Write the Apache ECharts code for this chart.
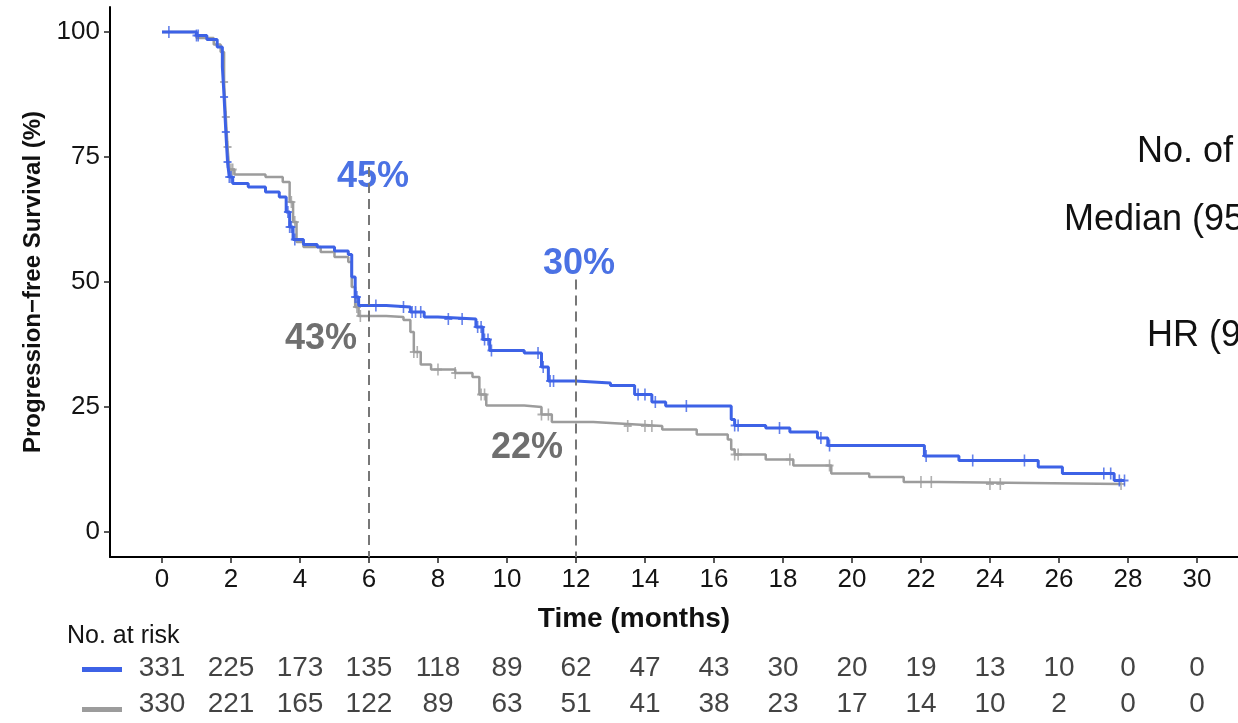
<!DOCTYPE html>
<html>
<head>
<meta charset="utf-8">
<script src="https://cdn.jsdelivr.net/npm/echarts@6/dist/echarts.min.js"></script>
<style>
html,body{margin:0;padding:0;background:#fff;}
#chart{width:1238px;height:723px;}
</style>
</head>
<body>
<div id="chart"></div>
<script>
// ---- data ----
const xTicks = [0,2,4,6,8,10,12,14,16,18,20,22,24,26,28,30];
const yTicks = [0,25,50,75,100];

const blueTime = [0,1.0,1.3,1.6,1.75,1.8,1.85,1.9,1.95,2.05,2.5,3.0,3.4,3.6,3.7,3.8,4.1,4.5,5.0,5.4,5.5,5.6,5.7,6.5,7.2,7.6,8.0,9.1,9.3,9.5,10.5,11.0,11.2,12.0,13.0,13.7,14.2,14.6,16.5,16.6,17.5,18.2,19.0,19.3,22.1,23.1,25.4,26.1,27.6,27.9];
const blueSurv = [100,99.3,98.5,97,93,87,80,74,71,69.7,69,68,67,64,61,58.5,57.5,57,56.2,55.5,51,47,45.3,45,44,43,42.6,41,38.5,36.3,35.8,33,30.2,29.8,29.3,27.5,26,25.2,22.5,21.3,20.8,20,18.8,17.3,15.2,14.3,13,11.7,10.3,10.3];

const grayTime = [0,1.0,1.5,1.7,1.8,1.85,1.9,1.95,2.1,3.0,3.5,3.7,3.8,3.9,4.1,4.6,5.0,5.4,5.5,5.6,5.7,6.5,7.0,7.2,7.3,7.5,7.8,8.5,9.0,9.2,9.4,10.5,11.0,11.3,12.5,13.5,14.5,15.5,16.4,16.5,16.6,17.5,18.3,19.4,20.5,21.5,22.5,27.8];
const graySurv = [100,98.8,97.5,96,90,83,77,72.5,71.5,71,70,66,62,58,57,56,55,54,49,45,43.2,43,42.4,40,36,33.5,32.5,31.8,31,27.5,25.3,25,23.5,22,21.6,21.2,20.5,19.5,18.5,16.5,15.5,14.5,13.3,11.7,11,10,9.6,9.6];

const blueCensor = [0.2,1.0,1.05,1.8,1.85,1.9,1.95,2.0,3.65,3.7,3.75,3.85,5.6,5.65,6.2,7.0,7.25,7.35,7.5,8.3,8.7,9.15,9.25,9.35,9.45,9.55,10.9,11.05,11.25,11.35,13.8,14.0,14.3,15.2,16.6,16.7,17.9,19.1,19.35,22.15,23.5,25.0,27.3,27.5,27.75,27.9];
const grayCensor = [1.8,1.85,1.9,2.0,2.05,3.75,3.85,5.65,5.75,6.0,7.3,7.4,8.0,8.5,9.25,9.35,11.0,11.2,13.5,14.0,14.2,16.6,16.7,18.2,19.35,22.0,22.3,24.0,24.3,27.8];

const riskBlue = [331,225,173,135,118,89,62,47,43,30,20,19,13,10,0,0];
const riskGray = [330,221,165,122,89,63,51,41,38,23,17,14,10,2,0,0];

const refTimes = [6,12];

// ---- helpers ----
function zip(t, s){ return t.map((v,i)=>[v, s[i]]); }
function survAt(times, surv, t){
  let v = surv[0];
  for (let i=0;i<times.length;i++){ if (times[i] <= t) v = surv[i]; else break; }
  return v;
}

const BLUE = '#3d62e6';
const GRAY = '#9c9c9c';
const BLUE_TXT = '#4b72e4';
const GRAY_TXT = '#6f6f6f';
const FONT = "'Liberation Sans', Arial, sans-serif";
const plusPath = 'path://M4,0 h2 v5 h4 v2 h-4 v5 h-2 v-5 h-4 v-2 h4 z';

const XMIN = -1.507, XMAX = 31.19;

const chart = echarts.init(document.getElementById('chart'), null, {renderer:'canvas'});

const option = {
  animation: false,
  backgroundColor: '#ffffff',
  grid: [
    {left:110, right:0, top:7, height:550, containLabel:false},
    {left:110, right:0, top:650, height:80, containLabel:false}
  ],
  xAxis: [
    {
      type:'value', gridIndex:0, min:XMIN, max:XMAX,
      axisLine:{show:true, onZero:false, lineStyle:{color:'#000', width:2}},
      axisTick:{show:true, customValues:xTicks, length:6, lineStyle:{color:'#222', width:1.5}},
      axisLabel:{show:true, customValues:xTicks, margin:10, fontSize:26, color:'#141414', fontFamily:FONT},
      splitLine:{show:false}
    },
    {
      type:'value', gridIndex:1, min:XMIN, max:XMAX, show:false
    }
  ],
  yAxis: [
    {
      type:'value', gridIndex:0, min:-5, max:105,
      axisLine:{show:true, onZero:false, lineStyle:{color:'#000', width:2}},
      axisTick:{show:true, customValues:yTicks, length:6, lineStyle:{color:'#222', width:1.5}},
      axisLabel:{show:true, customValues:yTicks, margin:10, fontSize:26, color:'#141414', fontFamily:FONT},
      splitLine:{show:false}
    },
    {
      type:'category', gridIndex:1, data:['blue','gray'], inverse:true, show:false
    }
  ],
  series: [
    {
      name:'Control', type:'line', step:'end', xAxisIndex:0, yAxisIndex:0,
      data: zip(grayTime, graySurv), showSymbol:false, symbol:'none',
      lineStyle:{color:GRAY, width:2.5}, z:2
    },
    {
      name:'Control censored', type:'scatter', xAxisIndex:0, yAxisIndex:0,
      data: grayCensor.map(t=>[t, survAt(grayTime, graySurv, t)]),
      symbol: plusPath, symbolSize:[8,12], itemStyle:{color:GRAY}, z:2
    },
    {
      name:'Experimental', type:'line', step:'end', xAxisIndex:0, yAxisIndex:0,
      data: zip(blueTime, blueSurv), showSymbol:false, symbol:'none',
      lineStyle:{color:BLUE, width:3}, z:3,
      markLine:{
        silent:true, symbol:['none','none'], label:{show:false},
        lineStyle:{color:'#777', width:2, type:[10,6]},
        data:[
          [{coord:[refTimes[0],73]},{coord:[refTimes[0],-5]}],
          [{coord:[refTimes[1],50.5]},{coord:[refTimes[1],-5]}]
        ]
      }
    },
    {
      name:'Experimental censored', type:'scatter', xAxisIndex:0, yAxisIndex:0,
      data: blueCensor.map(t=>[t, survAt(blueTime, blueSurv, t)]),
      symbol: plusPath, symbolSize:[8,12], itemStyle:{color:BLUE}, z:4
    },
    {
      name:'Risk blue', type:'scatter', xAxisIndex:1, yAxisIndex:1,
      data: xTicks.map((t,i)=>[t, 'blue', riskBlue[i]]),
      symbolSize:0,
      label:{show:true, position:'inside', formatter:p=>String(p.value[2]), fontSize:28, color:'#141414', fontFamily:FONT}
    },
    {
      name:'Risk gray', type:'scatter', xAxisIndex:1, yAxisIndex:1,
      data: xTicks.map((t,i)=>[t, 'gray', riskGray[i]]),
      symbolSize:0,
      label:{show:true, position:'inside', formatter:p=>String(p.value[2]), fontSize:28, color:'#141414', fontFamily:FONT}
    }
  ],
  graphic: [
    // axis titles
    {type:'text', x:33, y:282, rotation:Math.PI/2,
      style:{text:'Progression\u2212free Survival (%)', font:"bold 24px "+FONT, fill:'#111', textAlign:'center', textVerticalAlign:'middle'}},
    {type:'text', x:634, y:619,
      style:{text:'Time (months)', font:"bold 28px "+FONT, fill:'#111', textAlign:'center', textVerticalAlign:'middle'}},
    // percentage annotations
    {type:'text', x:373, y:177, style:{text:'45%', font:"bold 36px "+FONT, fill:BLUE_TXT, textAlign:'center', textVerticalAlign:'middle'}},
    {type:'text', x:321, y:339, style:{text:'43%', font:"bold 36px "+FONT, fill:GRAY_TXT, textAlign:'center', textVerticalAlign:'middle'}},
    {type:'text', x:579, y:264, style:{text:'30%', font:"bold 36px "+FONT, fill:BLUE_TXT, textAlign:'center', textVerticalAlign:'middle'}},
    {type:'text', x:527, y:448, style:{text:'22%', font:"bold 36px "+FONT, fill:GRAY_TXT, textAlign:'center', textVerticalAlign:'middle'}},
    // right side summary (cropped in reference)
    {type:'text', x:1137, y:152, style:{text:'No. of events', font:"36px "+FONT, fill:'#111', textAlign:'left', textVerticalAlign:'middle'}},
    {type:'text', x:1064, y:220, style:{text:'Median (95% CI)', font:"36px "+FONT, fill:'#111', textAlign:'left', textVerticalAlign:'middle'}},
    {type:'text', x:1147, y:336, style:{text:'HR (95% CI)', font:"36px "+FONT, fill:'#111', textAlign:'left', textVerticalAlign:'middle'}},
    // risk table header and swatches
    {type:'text', x:67, y:636, style:{text:'No. at risk', font:"25px "+FONT, fill:'#141414', textAlign:'left', textVerticalAlign:'middle'}},
    {type:'rect', shape:{x:82, y:667, width:40, height:5}, style:{fill:BLUE}},
    {type:'rect', shape:{x:82, y:707, width:40, height:5}, style:{fill:GRAY}}
  ]
};
chart.setOption(option);
</script>
</body>
</html>
